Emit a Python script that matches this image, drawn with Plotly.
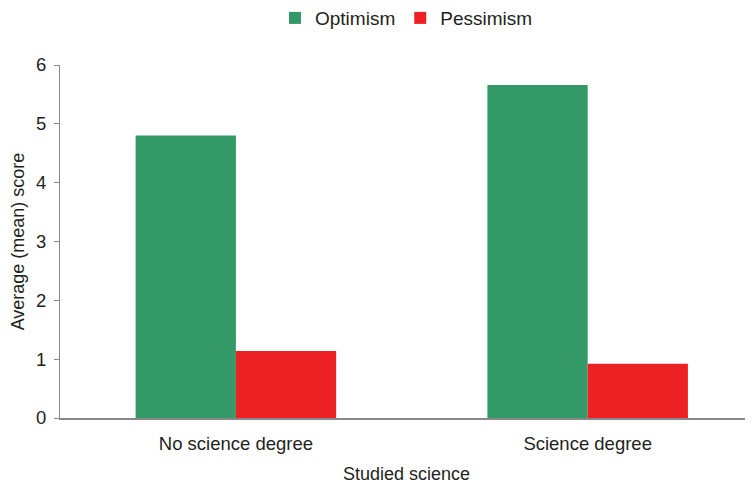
import plotly.graph_objects as go

categories = ["No science degree", "Science degree"]
optimism = [4.80, 5.66]
pessimism = [1.14, 0.92]

font = "Liberation Sans, Arial, sans-serif"
fig = go.Figure()
fig.add_trace(go.Bar(x=categories, y=optimism, name="Optimism", marker_color="#339966", marker_line_width=0))
fig.add_trace(go.Bar(x=categories, y=pessimism, name="Pessimism", marker_color="#ED2024", marker_line_width=0))

fig.update_layout(
    width=745, height=476,
    margin=dict(l=52, r=0, t=57, b=66, autoexpand=False),
    paper_bgcolor="white", plot_bgcolor="white",
    barmode="group", bargap=0.43, bargroupgap=0,
    font=dict(family=font, size=18, color="#231F20"),
    legend=dict(orientation="h", x=0.5, xanchor="center", y=1.133, yanchor="middle",
                font=dict(size=19), itemwidth=30, tracegroupgap=0),
    showlegend=True,
)
fig.update_xaxes(range=[-0.5, 1.47], showline=True, linecolor="#888888", linewidth=2,
                 ticks="", showgrid=False, automargin=False, ticklabelstandoff=8,
                 title=dict(text="Studied science", standoff=21, font=dict(size=18)),
                 tickfont=dict(size=18.5))
fig.update_yaxes(range=[0, 6], dtick=1, showline=True, linecolor="#888888", linewidth=1,
                 ticks="outside", ticklen=5, tickcolor="#888888", showgrid=False, zeroline=False,
                 automargin=False, ticklabelstandoff=4,
                 title=dict(text="Average (mean) score", standoff=10, font=dict(size=18)),
                 tickfont=dict(size=18.5))

fig.write_html("out.html")
